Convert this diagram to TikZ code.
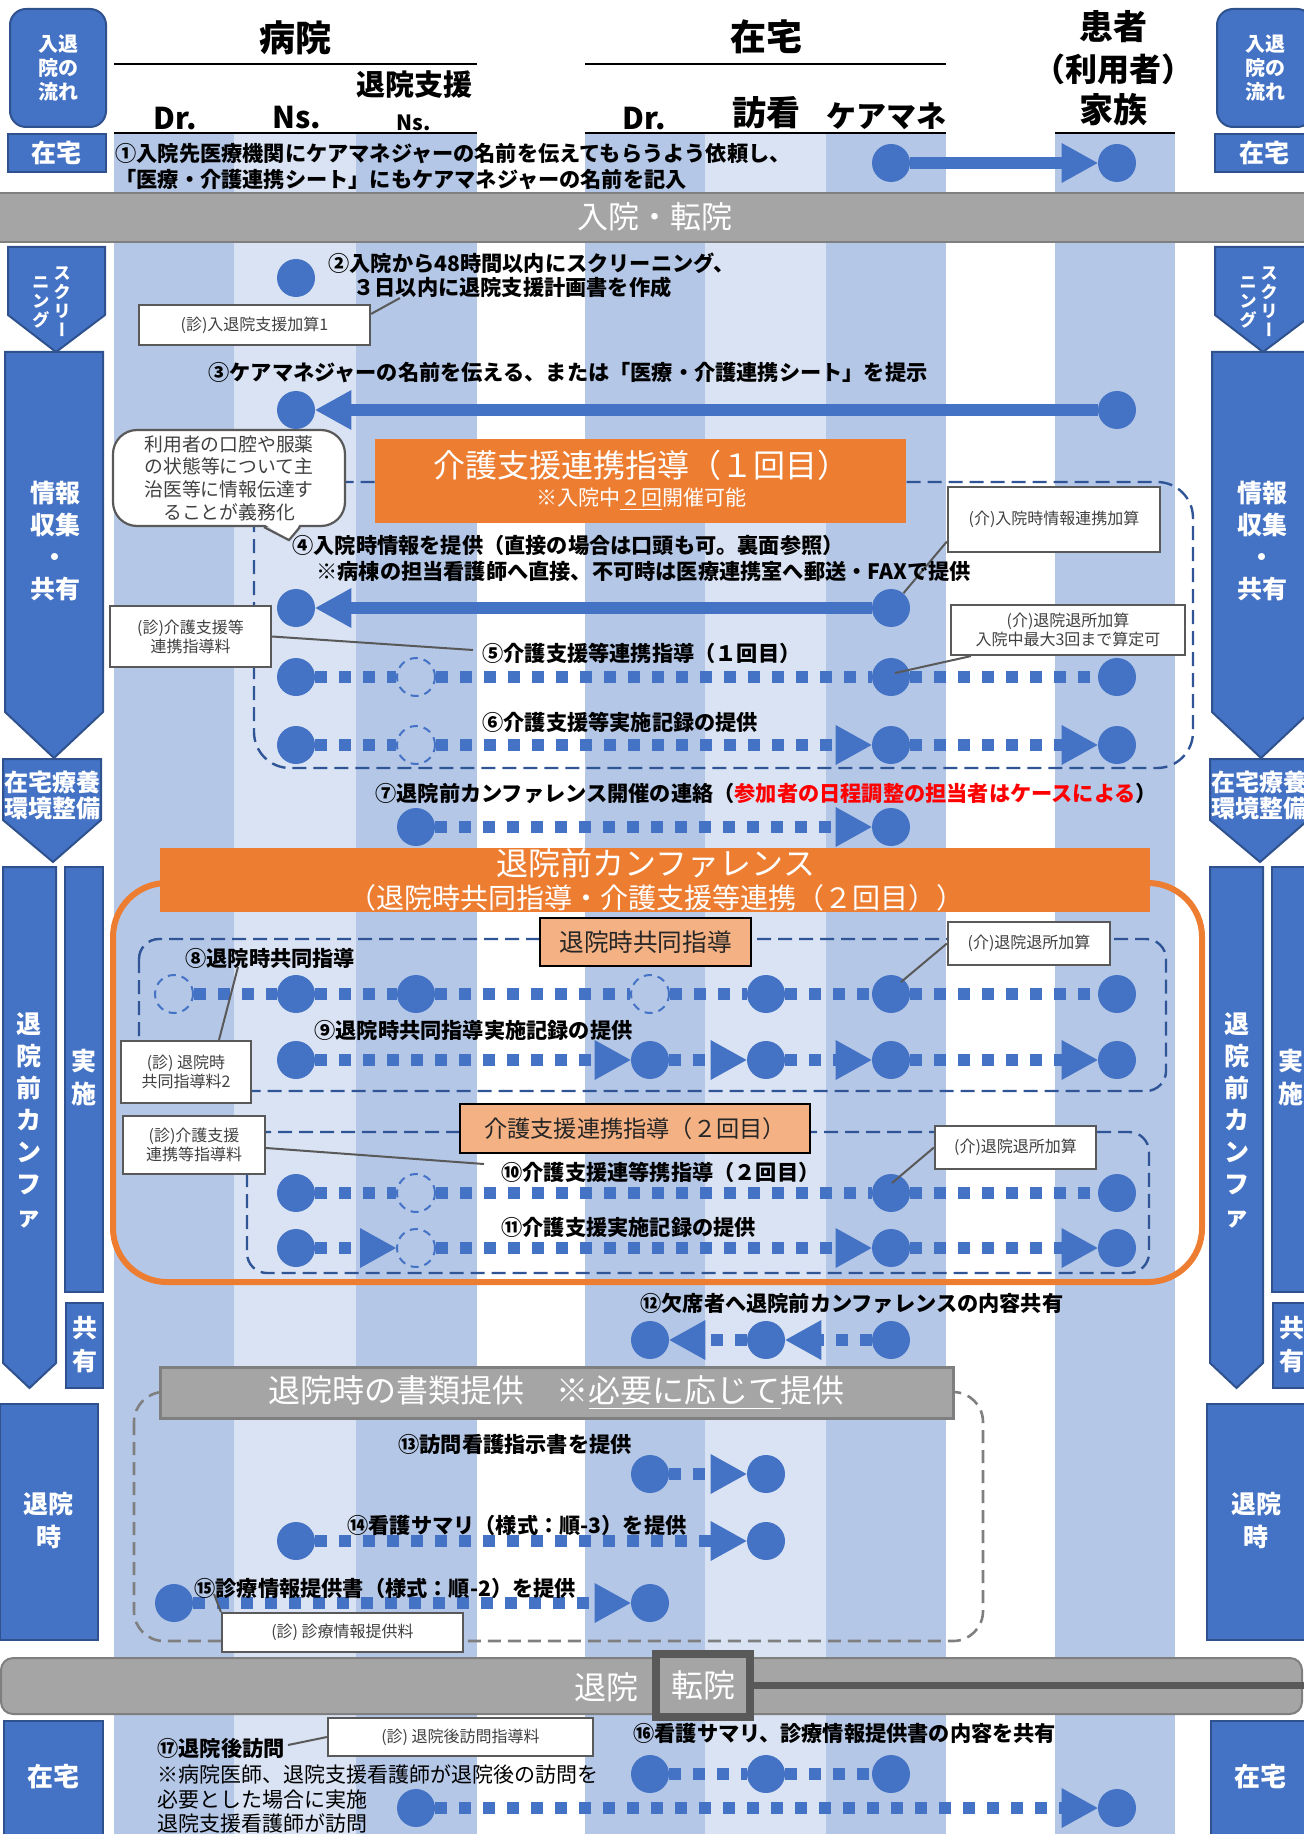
\documentclass[tikz,border=0pt]{standalone}
\usepackage{fontspec}
\setmainfont{Noto Sans CJK JP}
\usetikzlibrary{arrows.meta}
\definecolor{kblue}{HTML}{4472C4}
\definecolor{kborder}{HTML}{2F528F}
\definecolor{bandmid}{HTML}{B4C7E7}
\definecolor{bandlight}{HTML}{DAE3F3}
\definecolor{knavy}{HTML}{2F5597}
\definecolor{korange}{HTML}{ED7D31}
\definecolor{kpeach}{HTML}{F4B183}
\definecolor{kgray}{HTML}{A5A5A5}
\definecolor{kgrayline}{HTML}{7F7F7F}
\definecolor{kdark}{HTML}{595959}
\definecolor{ktext}{HTML}{404040}
\newcommand{\colx}[1]{\ifcase#1\or174\or296\or416\or650\or766\or891\or1117\fi}
\newcommand{\fsz}[2]{\fontsize{#1}{#2}\selectfont}
\tikzset{
  dot/.style={circle,fill=kblue,inner sep=0pt,minimum size=19pt},
  ghost/.style={circle,draw=kblue,line width=1pt,dash pattern=on 4pt off 3pt,inner sep=0pt,minimum size=19pt},
  dotline/.style={kblue,line width=6pt,dash pattern=on 6pt off 6pt},
  bar/.style={kblue,line width=6pt},
  ahead/.style={-{Triangle[length=18pt,width=20pt,line width=0pt]}},
  lbl/.style={anchor=west,inner sep=0pt,align=left,font=\bfseries\fsz{10.6}{13}},
  hdr/.style={inner sep=0pt,font=\bfseries\fsz{15}{17}},
  feebox/.style={draw=kdark,line width=1.1pt,fill=white,text=ktext,inner sep=0pt,align=center,font=\fsz{8}{9.5}},
  lead/.style={kdark,line width=1pt},
  side/.style={fill=kblue,draw=kborder,line width=1pt},
  sidetxt/.style={text=white,font=\bfseries\fsz{12.5}{16},align=center,inner sep=0pt},
  group/.style={knavy,line width=1.2pt,dash pattern=on 7pt off 3.5pt},
  bannerfill/.style={fill=kgray,draw=kgrayline,line width=1pt},
  wtxt/.style={text=white,inner sep=0pt,align=center},
  peach/.style={fill=kpeach,draw=black,line width=1pt,inner sep=0pt,text=black!85},
  note/.style={draw=kdark,line width=1.1pt,fill=white,rounded corners=12pt,text=ktext,align=center,inner sep=0pt,font=\fsz{9.4}{11.3}}
}
\begin{document}
\begin{tikzpicture}[x=0.5pt,y=-0.5pt]
\useasboundingbox (0,0) rectangle (1304,1834);
\clip (0,0) rectangle (1304,1834);
% lanes
\foreach \l/\r/\c in {114/234/bandmid,234/356/bandlight,356/477/bandmid,585/705/bandmid,705/826/bandlight,826/946/bandmid,1055/1175/bandmid}
  \fill[\c] (\l,134) rectangle (\r,1834);

% header
\draw[line width=1pt] (114,64) -- (477,64);
\draw[line width=1pt] (585,64) -- (946,64);
\draw[line width=1.3pt] (114,133) -- (477,133);
\draw[line width=1.3pt] (585,133) -- (946,133);
\draw[line width=1.3pt] (1055,133) -- (1175,133);
\node[hdr,font=\bfseries\fsz{18}{20}] (hHosp) at (295,38) {病院};
\node[hdr,font=\bfseries\fsz{14.5}{16}] (hSup) at (414,85) {退院支援};
\node[hdr] (hDrA) at (175,119) {Dr.};
\node[hdr] (hNsA) at (297,118) {Ns.};
\node[hdr,font=\bfseries\fsz{10.5}{12}] (hNsB) at (414,123) {Ns.};
\node[hdr,font=\bfseries\fsz{18}{20}] (hHome) at (766,37) {在宅};
\node[hdr] (hDrB) at (644,119) {Dr.};
\node[hdr,font=\bfseries\fsz{17}{19}] (hVisit) at (766,113) {訪看};
\node[hdr] (hCm) at (886,116) {ケアマネ};
\node[hdr,font=\bfseries\fsz{17}{19}] (hPatA) at (1113,27) {患者};
\node[hdr,font=\bfseries\fsz{16}{19}] (hPatB) at (1113,69) {（利用者）};
\node[hdr,font=\bfseries\fsz{17}{19}] (hPatC) at (1113,110) {家族};

% banners
\draw[bannerfill] (-5,193) rectangle (1310,242);
\node[wtxt,font=\fsz{15.5}{18}] (admit) at (655,217) {入院・転院};
\draw[bannerfill,rounded corners=6pt] (1,1658) rectangle (1302,1714);
\node[wtxt,font=\fsz{16}{18}] (leave) at (606,1687) {退院};
\node[wtxt,font=\fsz{16}{18},draw=kdark,line width=4pt,fill=kgray,minimum width=47pt,minimum height=31.5pt] (transfer) at (703,1685) {転院};
\coordinate (edge) at (1310,1685);
\draw[kdark,line width=3.5pt] (transfer.east) -- (edge);

% side columns
\foreach \dx in {0,1207}{
 \begin{scope}[shift={(\dx,0)}]
  \draw[side,rounded corners=8pt] (10,9) rectangle (106,127);
  \node[sidetxt,font=\bfseries\fsz{10}{12}] (flow\dx) at (58,68) {入退\\院の\\流れ};
  \draw[side] (8,134) rectangle (106,172);
  \node[sidetxt] (homeA\dx) at (57,153) {在宅};
  \draw[side] (8,247) -- (105,247) -- (105,315) -- (56,352) -- (8,315) -- cycle;
  \node[sidetxt,font=\bfseries\fsz{8.5}{9.5}] (scrA\dx) at (62,302) {ス\\ク\\リ\\{\addfontfeature{RawFeature=+vert}ー}};
  \node[sidetxt,font=\bfseries\fsz{8.5}{9.5}] (scrB\dx) at (41,302) {ニ\\ン\\グ};
  \draw[side] (5,352) -- (103,352) -- (103,712) -- (54,758) -- (5,712) -- cycle;
  \node[sidetxt] (info\dx) at (55,541) {情報\\収集\\・\\共有};
  \draw[side] (3,759) -- (101,759) -- (101,820) -- (53,862) -- (3,820) -- cycle;
  \node[sidetxt,font=\bfseries\fsz{12}{13}] (env\dx) at (52,795) {在宅療養\\環境整備};
  \draw[side] (3,867) -- (56,867) -- (56,1363) -- (29.5,1388) -- (3,1363) -- cycle;
  \node[sidetxt] (pre\dx) at (29.5,1120) {退\\院\\前\\カ\\ン\\フ\\ァ};
  \draw[side] (65,867) rectangle (103,1292);
  \node[sidetxt,font=\bfseries\fsz{12.5}{16.5}] (impl\dx) at (84,1078) {実\\施};
  \draw[side] (66,1303) rectangle (103,1388);
  \node[sidetxt,font=\bfseries\fsz{12.5}{16.5}] (share\dx) at (84.5,1345) {共\\有};
  \draw[side] (0,1404) rectangle (98,1640);
  \node[sidetxt,font=\bfseries\fsz{12.5}{16.5}] (dis\dx) at (49,1521) {退院\\時};
  \draw[side] (4,1721) rectangle (103,1840);
  \node[sidetxt,font=\bfseries\fsz{13}{15}] (homeB\dx) at (53,1777) {在宅};
 \end{scope}}

% groups
\draw[group,rounded corners=18pt] (254,482) rectangle (1193,768);
\draw[korange,line width=3pt,rounded corners=27pt] (113,883) rectangle (1202,1282);
\draw[group,rounded corners=10pt] (139,939) rectangle (1166,1091);
\draw[group,rounded corners=10pt] (247,1132) rectangle (1149,1273);
\draw[kgrayline,line width=1.3pt,dash pattern=on 6.5pt off 3.5pt,rounded corners=15pt] (134,1392) rectangle (983,1641);

% titles
\node[fill=korange,minimum width=265.5pt,minimum height=41.5pt,inner sep=0pt] (kaigoA) at (640.5,481) {};
\node[wtxt,font=\fsz{16}{18}] (kaigoAt) at (641,465) {介護支援連携指導（１回目）};
\node[wtxt,font=\fsz{10.5}{12}] (kaigoAs) at (641,499) {※入院中\underline{２回}開催可能};
\node[fill=korange,minimum width=495pt,minimum height=32pt,inner sep=0pt] (conf) at (655,880) {};
\node[wtxt,font=\fsz{16}{18}] (conft) at (656,863) {退院前カンファレンス};
\node[wtxt,font=\fsz{14}{16}] (confs) at (656,898) {（退院時共同指導・介護支援等連携（２回目））};
\node[peach,minimum width=105.5pt,minimum height=24pt,font=\fsz{12.3}{14}] (joint) at (645.5,942) {退院時共同指導};
\node[peach,minimum width=175pt,minimum height=24.5pt,font=\fsz{11.6}{14}] (kaigoB) at (635,1128.5) {介護支援連携指導（２回目）};
\node[wtxt,fill=kgray,draw=kgrayline,line width=1.5pt,minimum width=396.5pt,minimum height=25.5pt,font=\fsz{16}{18}] (docs) at (556.5,1392.5) {退院時の書類提供　※\underline{必要に応じて}提供};

% note
\node[note,minimum width=116pt,minimum height=48pt] (memo) at (229,478) {利用者の口腔や服薬\\の状態等について主\\治医等に情報伝達す\\ることが義務化};
\fill[white] ([shift={(17.5pt,1.6pt)}]memo.south) -- ([shift={(30pt,-6.5pt)}]memo.south) -- ([shift={(35.5pt,1.6pt)}]memo.south) -- cycle;
\draw[kdark,line width=1.1pt] ([xshift=17.5pt]memo.south) -- ([shift={(30pt,-6.5pt)}]memo.south) -- ([xshift=35.5pt]memo.south);

% rows of dots
\foreach \c in {6,7} \node[dot] (r1-\c) at (\colx{\c},163) {};
\draw[bar,ahead] (r1-6) -- (r1-7);
\node[dot] (r2-2) at (\colx{2},278) {};
\foreach \c in {2,7} \node[dot] (r3-\c) at (\colx{\c},410) {};
\draw[bar,ahead] (r3-7) -- (r3-2);
\foreach \c in {2,6} \node[dot] (r4-\c) at (\colx{\c},608) {};
\draw[bar,ahead] (r4-6) -- (r4-2);

\foreach \c/\s in {2/dot,3/ghost,6/dot,7/dot} \node[\s] (r5-\c) at (\colx{\c},677) {};
\foreach \a/\b/\t in {2/3/,3/6/,6/7/} \draw[dotline,\t] (r5-\a) -- (r5-\b);
\foreach \c/\s in {2/dot,3/ghost,6/dot,7/dot} \node[\s] (r6-\c) at (\colx{\c},745) {};
\foreach \a/\b/\t in {2/3/,3/6/ahead,6/7/ahead} \draw[dotline,\t] (r6-\a) -- (r6-\b);
\foreach \c in {3,6} \node[dot] (r7-\c) at (\colx{\c},827) {};
\draw[dotline,ahead] (r7-3) -- (r7-6);

\foreach \c/\s in {1/ghost,2/dot,3/dot,4/ghost,5/dot,6/dot,7/dot} \node[\s] (r8-\c) at (\colx{\c},994) {};
\foreach \a/\b/\t in {1/2/,2/3/,3/4/,4/5/,5/6/,6/7/} \draw[dotline,\t] (r8-\a) -- (r8-\b);
\foreach \c in {2,4,5,6,7} \node[dot] (r9-\c) at (\colx{\c},1060) {};
\foreach \a/\b/\t in {2/4/ahead,4/5/ahead,5/6/ahead,6/7/ahead} \draw[dotline,\t] (r9-\a) -- (r9-\b);
\foreach \c/\s in {2/dot,3/ghost,6/dot,7/dot} \node[\s] (r10-\c) at (\colx{\c},1193) {};
\foreach \a/\b/\t in {2/3/,3/6/,6/7/} \draw[dotline,\t] (r10-\a) -- (r10-\b);
\foreach \c/\s in {2/dot,3/ghost,6/dot,7/dot} \node[\s] (r11-\c) at (\colx{\c},1248) {};
\foreach \a/\b/\t in {2/3/ahead,3/6/ahead,6/7/ahead} \draw[dotline,\t] (r11-\a) -- (r11-\b);

\foreach \c in {4,5,6} \node[dot] (r12-\c) at (\colx{\c},1340) {};
\foreach \a/\b/\t in {6/5/ahead,5/4/ahead} \draw[dotline,\t] (r12-\a) -- (r12-\b);
\foreach \c in {4,5} \node[dot] (r13-\c) at (\colx{\c},1474) {};
\draw[dotline,ahead] (r13-4) -- (r13-5);
\foreach \c in {2,5} \node[dot] (r14-\c) at (\colx{\c},1541) {};
\draw[dotline,ahead] (r14-2) -- (r14-5);
\foreach \c in {1,4} \node[dot] (r15-\c) at (\colx{\c},1603) {};
\draw[dotline,ahead] (r15-1) -- (r15-4);
\foreach \c in {4,5,6} \node[dot] (r16-\c) at (\colx{\c},1774) {};
\foreach \a/\b/\t in {4/5/,5/6/} \draw[dotline,\t] (r16-\a) -- (r16-\b);
\foreach \c in {3,7} \node[dot] (r17-\c) at (\colx{\c},1808) {};
\draw[dotline,ahead] (r17-3) -- (r17-7);

% fee boxes
\node[feebox,minimum width=115.5pt,minimum height=20pt] (tgA) at (254.5,325) {(診)入退院支援加算1};
\node[feebox,minimum width=106pt,minimum height=32.5pt] (tgB) at (1054,519.5) {(介)入院時情報連携加算};
\node[feebox,minimum width=80.5pt,minimum height=30.5pt] (tgC) at (190.5,636.5) {(診)介護支援等\\連携指導料};
\node[feebox,minimum width=117pt,minimum height=25pt] (tgD) at (1068,630) {(介)退院退所加算\\入院中最大3回まで算定可};
\node[feebox,minimum width=81pt,minimum height=21.5pt] (tgE) at (1029,943.5) {(介)退院退所加算};
\node[feebox,minimum width=65pt,minimum height=31pt] (tgF) at (186,1072) {(診) 退院時\\共同指導料2};
\node[feebox,minimum width=71pt,minimum height=29pt] (tgG) at (194,1145) {(診)介護支援\\連携等指導料};
\node[feebox,minimum width=80.5pt,minimum height=21.5pt] (tgH) at (1015.5,1147.5) {(介)退院退所加算};
\node[feebox,minimum width=120.5pt,minimum height=19.5pt] (tgI) at (342.5,1632.5) {(診) 診療情報提供料};
\node[feebox,minimum width=132.5pt,minimum height=19pt] (tgJ) at (460.5,1737) {(診) 退院後訪問指導料};

\coordinate (pA) at (400,298);
\coordinate (pC) at (473,650);
\coordinate (pF) at (238,967);
\coordinate (pG) at (484,1164);
\coordinate (pI) at (214,1594);
\coordinate (pJ) at (288,1745);
\draw[lead] ([yshift=-5pt]tgA.north east) -- (pA);
\draw[lead] ([yshift=-11pt]tgB.west) -- (r4-6);
\draw[lead] (tgC.east) -- (pC);
\draw[lead] ([xshift=10.5pt]tgD.south west) -- ([shift={(2pt,2pt)}]r5-6.center);
\draw[lead] (tgE.west) -- ([shift={(5pt,6pt)}]r8-6.center);
\draw[lead] ([xshift=16.5pt]tgF.north) -- (pF);
\draw[lead] ([yshift=-1.5pt]tgG.east) -- (pG);
\draw[lead] (tgH.west) -- ([shift={(0.5pt,5pt)}]r10-6.center);
\draw[lead] (tgI.north west) -- (pI);
\draw[lead] (tgJ.west) -- (pJ);

% labels
\node[lbl] (t1) at (115,167) {①入院先医療機関にケアマネジャーの名前を伝えてもらうよう依頼し、\\「医療・介護連携シート」にもケアマネジャーの名前を記入};
\node[lbl,font=\bfseries\fsz{10.6}{12}] (t2) at (328,275) {②入院から48時間以内にスクリーニング、\\\hspace*{12.5pt}３日以内に退院支援計画書を作成};
\node[lbl] (t3) at (208,373) {③ケアマネジャーの名前を伝える、または「医療・介護連携シート」を提示};
\node[lbl] (t4) at (292,558) {④入院時情報を提供（直接の場合は口頭も可。裏面参照）\\\hspace*{12pt}※病棟の担当看護師へ直接、不可時は医療連携室へ郵送・FAXで提供};
\node[lbl] (t5) at (482,653) {⑤介護支援等連携指導（１回目）};
\node[lbl] (t6) at (482,722) {⑥介護支援等実施記録の提供};
\node[lbl] (t7) at (375,793) {⑦退院前カンファレンス開催の連絡（\textcolor{red}{参加者の日程調整の担当者はケースによる}）};
\node[lbl] (t8) at (185,958) {⑧退院時共同指導};
\node[lbl] (t9) at (314,1030) {⑨退院時共同指導実施記録の提供};
\node[lbl] (t10) at (501,1172) {⑩介護支援連等携指導（２回目）};
\node[lbl] (t11) at (501,1227) {⑪介護支援実施記録の提供};
\node[lbl] (t12) at (640,1303) {⑫欠席者へ退院前カンファレンスの内容共有};
\node[lbl] (t13) at (398,1444) {⑬訪問看護指示書を提供};
\node[lbl] (t14) at (347,1525) {⑭看護サマリ（様式：順-3）を提供};
\node[lbl] (t15) at (194,1588) {⑮診療情報提供書（様式：順-2）を提供};
\node[lbl] (t16) at (633,1733) {⑯看護サマリ、診療情報提供書の内容を共有};
\node[lbl] (t17) at (157,1748) {⑰退院後訪問};
\node[lbl,font=\fsz{10.5}{12.3}] (t17n) at (157,1799) {※病院医師、退院支援看護師が退院後の訪問を\\必要とした場合に実施\\退院支援看護師が訪問};
\end{tikzpicture}
\end{document}
